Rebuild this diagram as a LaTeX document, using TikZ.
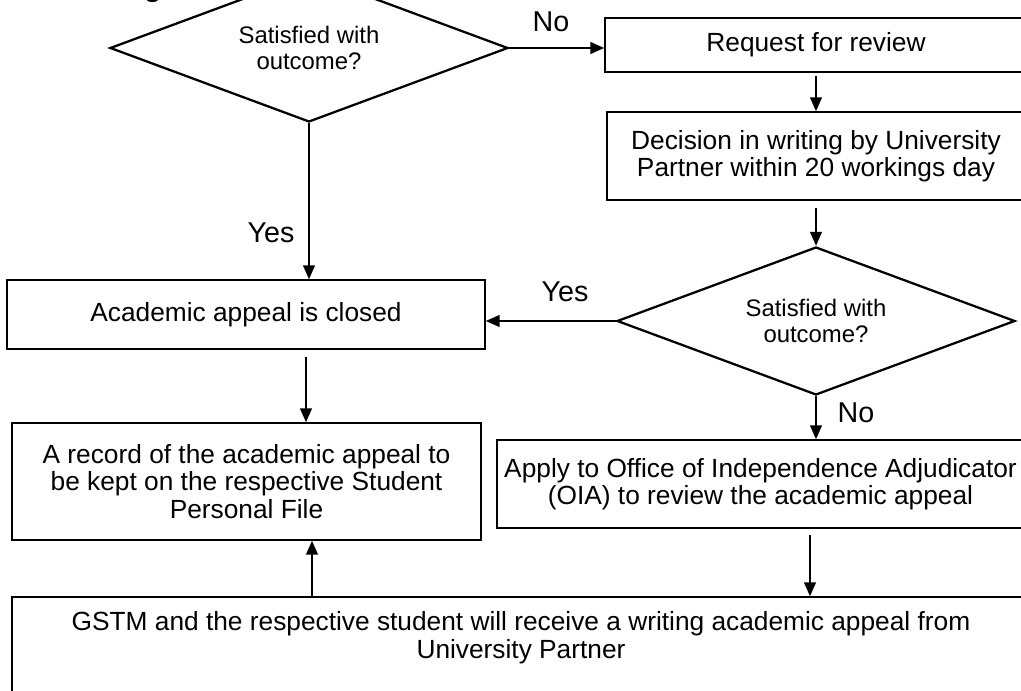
\documentclass[tikz,border=0pt]{standalone}
\usepackage{fontspec}
\setmainfont{Liberation Sans}
\usetikzlibrary{shapes.geometric,arrows.meta}
\newcommand\pxu{0.4184pt}
\begin{document}
\begin{tikzpicture}[x=\pxu, y=-\pxu,
  box/.style={draw, line width=0.55pt, rectangle, inner sep=0pt, align=center,
    font=\fontsize{11}{11.5}\selectfont},
  decision/.style={draw, line width=0.95pt, diamond, aspect=2.69, inner sep=0pt, align=center,
    minimum width=398*\pxu, minimum height=148*\pxu,
    font=\fontsize{10}{11.2}\selectfont},
  flow/.style={line width=0.95pt, -{Triangle[length=5.8pt,width=4.8pt]}},
  tag/.style={font=\fontsize{12}{14}\selectfont, inner sep=0pt}
]
\path[use as bounding box] (0,0) rectangle (1021,691);

% heading (mostly above the page)
\node[anchor=base, inner sep=0pt, font=\bfseries\fontsize{12}{14}\selectfont] (head) at (153,-3) {g};

% decisions
\node[decision] (d1) at (309,48) {Satisfied with\\outcome?};
\node[decision] (d2) at (816,321) {Satisfied with\\outcome?};

% process boxes
\node[box, minimum width=422*\pxu, minimum height=54*\pxu] (req) at (816,45) {Request for review};
\node[box, minimum width=418*\pxu, minimum height=88*\pxu] (dec) at (816,156)
  {Decision in writing by University\\Partner within 20 workings day};
\node[box, minimum width=478*\pxu, minimum height=69*\pxu] (acad) at (246,314.5)
  {Academic appeal is closed};
\node[box, minimum width=469*\pxu, minimum height=117*\pxu] (rec) at (246.5,481.5)
  {A record of the academic appeal to\\be kept on the respective Student\\Personal File};
\node[box, minimum width=527*\pxu, minimum height=88*\pxu] (oia) at (760.5,484)
  {Apply to Office of Independence Adjudicator\\(OIA) to review the academic appeal};
\node[box, minimum width=1018*\pxu, minimum height=112*\pxu] (gstm) at (521,653)
  {GSTM and the respective student will receive a writing academic appeal from\\University Partner\\\strut};

% connectors
\draw[flow] (d1.east) -- (req.west |- d1.east);
\node[tag] (lno1) at (551,22) {No};
\draw[flow, shorten <=1.5pt] (req.south) -- (dec.north);
\draw[flow, shorten <=3pt] (dec.south) -- (d2.north);
\draw[flow] (d2.west) -- (acad.east |- d2.west);
\node[tag] (lyes2) at (565,292) {Yes};
\draw[flow] (d1.south) -- (d1.south |- acad.north);
\node[tag] (lyes1) at (271,233) {Yes};
\coordinate (colA) at (306,0);
\draw[flow, shorten <=3pt] (colA |- acad.south) -- (colA |- rec.north);
\draw[flow] (d2.south) -- (d2.south |- oia.north);
\node[tag] (lno2) at (856,413) {No};
\coordinate (colB) at (810,0);
\draw[flow, shorten <=2.5pt] (colB |- oia.south) -- (colB |- gstm.north);
\coordinate (colC) at (312,0);
\draw[flow] (colC |- gstm.north) -- (colC |- rec.south);
\end{tikzpicture}
\end{document}
